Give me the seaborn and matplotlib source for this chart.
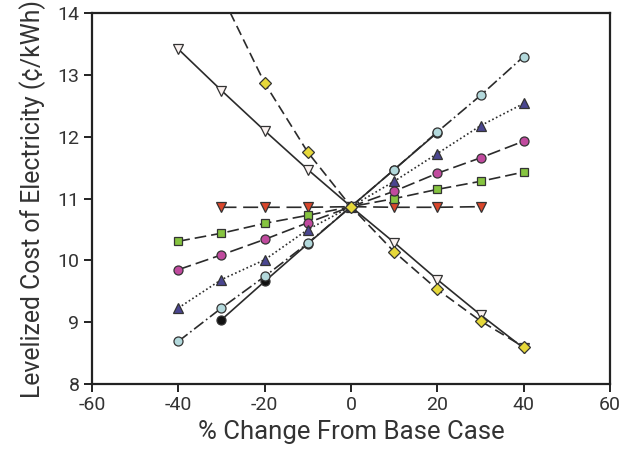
import matplotlib
matplotlib.use("Agg")
import matplotlib.pyplot as plt
import seaborn as sns
import pandas as pd

sns.set_theme(style="white")
plt.rcParams['font.family'] = ['Roboto', 'DejaVu Sans']

# Data
x_yellow = [-30, -20, -10, 0, 10, 20, 30, 40]
y_yellow = [14.3, 12.87, 11.75, 10.87, 10.14, 9.53, 9.02, 8.60]

x_full = [-40, -30, -20, -10, 0, 10, 20, 30, 40]
y_white_tri = [13.42, 12.75, 12.10, 11.47, 10.87, 10.29, 9.69, 9.12, 8.58]
y_green = [10.31, 10.44, 10.60, 10.73, 10.87, 11.00, 11.15, 11.28, 11.43]
y_magenta = [9.85, 10.09, 10.34, 10.61, 10.87, 11.12, 11.41, 11.66, 11.93]
y_purple = [9.23, 9.69, 10.01, 10.50, 10.87, 11.28, 11.73, 12.18, 12.54]
y_lightblue = [8.69, 9.23, 9.74, 10.28, 10.87, 11.47, 12.08, 12.67, 13.30]

x_red = [-30, -20, -10, 0, 10, 20, 30]
y_red = [10.86, 10.86, 10.86, 10.87, 10.86, 10.86, 10.87]

x_black = [-30, -20, -10, 0, 10, 20]
y_black = [9.04, 9.66, 10.27, 10.87, 11.47, 12.07]

x_ticks = [-60, -40, -20, 0, 20, 40, 60]
y_ticks = [8, 9, 10, 11, 12, 13, 14]

line_col = "#2b2b2b"
series = [
    (x_red, y_red, "v", "#d9462b", (0, (9, 4)), 6.5),
    (x_full, y_green, "s", "#86c440", (0, (7, 3)), 6),
    (x_full, y_magenta, "o", "#c04a9e", (0, (8, 3)), 6.5),
    (x_full, y_purple, "^", "#4a4690", (0, (1, 1.5)), 7),
    (x_black, y_black, "o", "#111111", "-", 6.5),
    (x_full, y_lightblue, "o", "#b3d9dc", (0, (7, 2, 1, 2)), 6.5),
    (x_full, y_white_tri, "v", "#fbf3f1", "-", 7.5),
    (x_yellow, y_yellow, "D", "#e6d83a", (0, (6, 3)), 6),
]

fig = plt.figure(figsize=(6.33, 4.58), dpi=100)
ax = fig.add_axes([0.1453, 0.1616, 0.8184, 0.8094])

for i, (xs, ys, mk, fc, ls, ms) in enumerate(series):
    df = pd.DataFrame({"x": xs, "y": ys})
    sns.lineplot(data=df, x="x", y="y", ax=ax, sort=False, color=line_col,
                 linestyle=ls, linewidth=1.2, marker=mk, markersize=ms,
                 markerfacecolor=fc, markeredgecolor="#333333",
                 markeredgewidth=0.9, zorder=3 + i)

ax.set_xlim(-60, 60)
ax.set_ylim(8, 14)
ax.set_xticks(x_ticks)
ax.set_yticks(y_ticks)
ax.set_xticklabels([str(v) for v in x_ticks])
ax.set_yticklabels([str(v) for v in y_ticks])

for s in ax.spines.values():
    s.set_visible(True)
    s.set_color("#222222")
    s.set_linewidth(1.6)

ax.tick_params(axis="both", which="both", direction="out", length=6, width=1.4,
               color="#222222", labelsize=14, labelcolor="#333333", pad=3,
               bottom=True, left=True, top=False, right=False)

ax.set_xlabel("% Change From Base Case", fontsize=18.5, color="#333333", labelpad=4)
ax.set_ylabel("Levelized Cost of Electricity (\u00a2/kWh)", fontsize=17.8,
              color="#333333", labelpad=8)

fig.savefig("out.png", dpi=100, facecolor="white")
